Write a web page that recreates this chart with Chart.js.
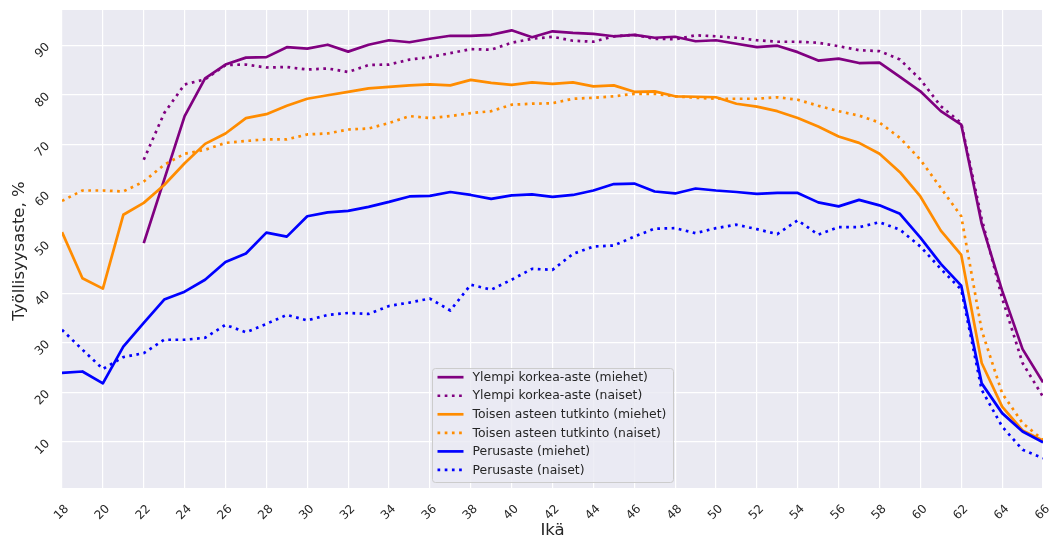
<!DOCTYPE html>
<html><head><meta charset="utf-8">
<script src="https://cdn.jsdelivr.net/npm/chart.js@4.4.1/dist/chart.umd.min.js"></script>
<style>html,body{margin:0;padding:0;background:#fff;overflow:hidden}#wrap{width:1051px;height:535px}</style>
</head><body><div id="wrap"><canvas id="c" width="1051" height="535"></canvas></div>
<script>
const ages = [18,19,20,21,22,23,24,25,26,27,28,29,30,31,32,33,34,35,36,37,38,39,40,41,42,43,44,45,46,47,48,49,50,51,52,53,54,55,56,57,58,59,60,61,62,63,64,65,66];
const ylempiMiehet = [null,null,null,null,50.1,62.9,75.7,83.3,86.1,87.5,87.6,89.6,89.3,90.1,88.7,90.1,91.0,90.6,91.3,91.9,91.9,92.1,93.0,91.6,92.8,92.5,92.3,91.8,92.1,91.5,91.7,90.8,91.0,90.3,89.6,89.9,88.6,86.9,87.3,86.4,86.5,83.6,80.7,76.7,74.0,54.0,40.5,28.7,22.0];
const ylempiNaiset = [null,null,null,null,66.9,76.3,82.1,83.1,86.0,86.1,85.5,85.6,85.1,85.3,84.6,86.0,86.1,87.1,87.6,88.4,89.2,89.1,90.5,91.3,91.7,90.9,90.7,91.8,92.1,91.3,91.2,92.0,91.8,91.5,91.0,90.7,90.7,90.5,89.8,89.0,88.8,87.1,83.1,77.7,74.3,55.0,39.0,25.9,19.1];
const toisenMiehet = [52.3,43.0,40.9,55.8,58.2,61.8,66.2,70.1,72.2,75.3,76.1,77.8,79.2,79.9,80.6,81.3,81.6,81.9,82.1,81.9,83.0,82.4,82.0,82.5,82.2,82.5,81.7,81.9,80.6,80.7,79.7,79.6,79.5,78.2,77.6,76.7,75.3,73.6,71.6,70.3,68.1,64.4,59.5,52.6,47.7,25.9,17.1,12.3,10.3];
const toisenNaiset = [58.6,60.7,60.7,60.5,62.5,65.9,68.1,68.9,70.3,70.7,71.0,71.0,72.0,72.2,73.0,73.2,74.3,75.7,75.3,75.7,76.3,76.7,78.0,78.2,78.3,79.2,79.4,79.7,80.2,80.2,79.7,79.4,79.2,79.2,79.2,79.5,79.0,77.8,76.7,75.8,74.4,71.3,66.9,61.2,55.5,32.5,19.8,13.8,10.4];
const perusMiehet = [23.9,24.2,21.8,29.2,34.0,38.7,40.3,42.7,46.3,48.0,52.2,51.4,55.5,56.3,56.6,57.4,58.4,59.5,59.6,60.4,59.8,59.0,59.7,59.9,59.4,59.8,60.7,62.0,62.1,60.5,60.1,61.1,60.7,60.4,60.0,60.2,60.2,58.3,57.5,58.8,57.7,56.0,51.2,45.9,41.5,21.8,15.8,12.1,9.9];
const perusNaiset = [32.6,28.6,24.7,27.1,27.9,30.6,30.6,31.0,33.6,32.1,33.8,35.6,34.5,35.6,36.0,35.8,37.4,38.1,38.9,36.5,41.7,40.7,42.7,44.9,44.7,47.9,49.4,49.6,51.4,53.0,53.1,52.1,53.1,53.8,52.9,51.9,54.7,51.8,53.3,53.3,54.3,52.8,49.4,44.9,40.7,20.5,13.1,8.4,6.7];
const seriesLabels = ['Ylempi korkea-aste (miehet)','Ylempi korkea-aste (naiset)','Toisen asteen tutkinto (miehet)','Toisen asteen tutkinto (naiset)','Perusaste (miehet)','Perusaste (naiset)'];
const seriesValues = [ylempiMiehet, ylempiNaiset, toisenMiehet, toisenNaiset, perusMiehet, perusNaiset];
const seriesColors = ['#800080','#800080','#ff8c00','#ff8c00','#0000ff','#0000ff'];
const seriesDotted = [false,true,false,true,false,true];
const xTickLabels = [18,20,22,24,26,28,30,32,34,36,38,40,42,44,46,48,50,52,54,56,58,60,62,64,66];
const yTickLabels = [10,20,30,40,50,60,70,80,90];
const xTitle = 'Ikä';
const yTitle = 'Työllisyysaste, %';

const FONT = '"DejaVu Sans", sans-serif';
const TXT = '#262626';
const LW = 2.7;
const DASH = [2.7, 4.5];

const datasets = seriesLabels.map((lab, i) => ({
  label: lab,
  data: ages.map((a, j) => ({x: a, y: seriesValues[i][j]})),
  borderColor: seriesColors[i],
  backgroundColor: seriesColors[i],
  borderWidth: LW,
  borderDash: seriesDotted[i] ? DASH : [],
  borderCapStyle: 'butt',
  borderJoinStyle: 'round',
  pointRadius: 0,
  pointHoverRadius: 0,
  tension: 0,
  fill: false,
  spanGaps: false,
  order: 6 - i
}));

const bgPlugin = {
  id: 'bg',
  beforeDraw(chart) {
    const {ctx, chartArea: a} = chart;
    ctx.save();
    ctx.fillStyle = '#eaeaf2';
    ctx.fillRect(a.left, a.top, a.right - a.left, a.bottom - a.top);
    ctx.restore();
  }
};

const legendPlugin = {
  id: 'mplLegend',
  afterDraw(chart) {
    const {ctx, chartArea: a} = chart;
    const w = 241, h = 114;
    const cx = (a.left + a.right) / 2;
    const left = Math.round(cx - w / 2) + 0.5, top = Math.round(a.bottom - 6 - h) + 0.5;
    ctx.save();
    ctx.globalAlpha = 0.8;
    ctx.fillStyle = '#eaeaf2';
    ctx.beginPath();
    if (ctx.roundRect) ctx.roundRect(left, top, w, h, 3); else ctx.rect(left, top, w, h);
    ctx.fill();
    ctx.globalAlpha = 1;
    ctx.strokeStyle = '#cccccc';
    ctx.lineWidth = 1;
    ctx.stroke();
    ctx.font = '12.4px ' + FONT;
    ctx.textBaseline = 'middle';
    ctx.textAlign = 'left';
    seriesLabels.forEach((lab, i) => {
      const y = top + 8.7 + i * 18.55;
      ctx.beginPath();
      ctx.strokeStyle = seriesColors[i];
      ctx.lineWidth = LW;
      ctx.lineCap = 'butt';
      ctx.setLineDash(seriesDotted[i] ? DASH : []);
      ctx.moveTo(left + 5, y);
      ctx.lineTo(left + 31, y);
      ctx.stroke();
      ctx.setLineDash([]);
      ctx.fillStyle = TXT;
      ctx.fillText(lab, left + 40, y + 0.5);
    });
    ctx.restore();
  }
};

const titlePlugin = {
  id: 'axTitles',
  afterDraw(chart) {
    const {ctx, chartArea: a} = chart;
    ctx.save();
    ctx.fillStyle = TXT;
    ctx.font = '16.5px ' + FONT;
    ctx.textAlign = 'center';
    ctx.textBaseline = 'alphabetic';
    ctx.fillText(xTitle, (a.left + a.right) / 2, 535);
    ctx.translate(24, (a.top + a.bottom) / 2 + 2);
    ctx.rotate(-Math.PI / 2);
    ctx.fillText(yTitle, 0, 0);
    ctx.restore();
  }
};

function noPad(s) { s.paddingLeft = 0; s.paddingRight = 0; s.paddingTop = 0; s.paddingBottom = 0; }

new Chart(document.getElementById('c'), {
  type: 'line',
  data: {datasets},
  plugins: [bgPlugin, legendPlugin, titlePlugin],
  options: {
    responsive: false,
    animation: false,
    devicePixelRatio: 1,
    layout: {padding: {left: 0, top: 10, right: 8, bottom: 0}},
    plugins: {legend: {display: false}, tooltip: {enabled: false}, title: {display: false}},
    scales: {
      x: {
        type: 'linear', min: 18, max: 66,
        afterFit: s => { s.height = 47; noPad(s); },
        afterBuildTicks: s => { s.ticks = xTickLabels.map(v => ({value: v})); },
        border: {display: false},
        grid: {color: '#ffffff', lineWidth: 1.2, drawTicks: false},
        ticks: {minRotation: 45, maxRotation: 45, autoSkip: false, padding: 14, labelOffset: 5,
                color: TXT, font: {family: FONT, size: 12}, callback: v => String(v)}
      },
      y: {
        type: 'linear', min: 0.7, max: 97.1,
        afterFit: s => { s.width = 62; noPad(s); },
        afterBuildTicks: s => { s.ticks = yTickLabels.map(v => ({value: v})); },
        border: {display: false},
        grid: {color: '#ffffff', lineWidth: 1.2, drawTicks: false},
        ticks: {minRotation: 45, maxRotation: 45, padding: 14,
                color: TXT, font: {family: FONT, size: 12}, callback: v => String(v)}
      }
    }
  }
});
</script></body></html>
